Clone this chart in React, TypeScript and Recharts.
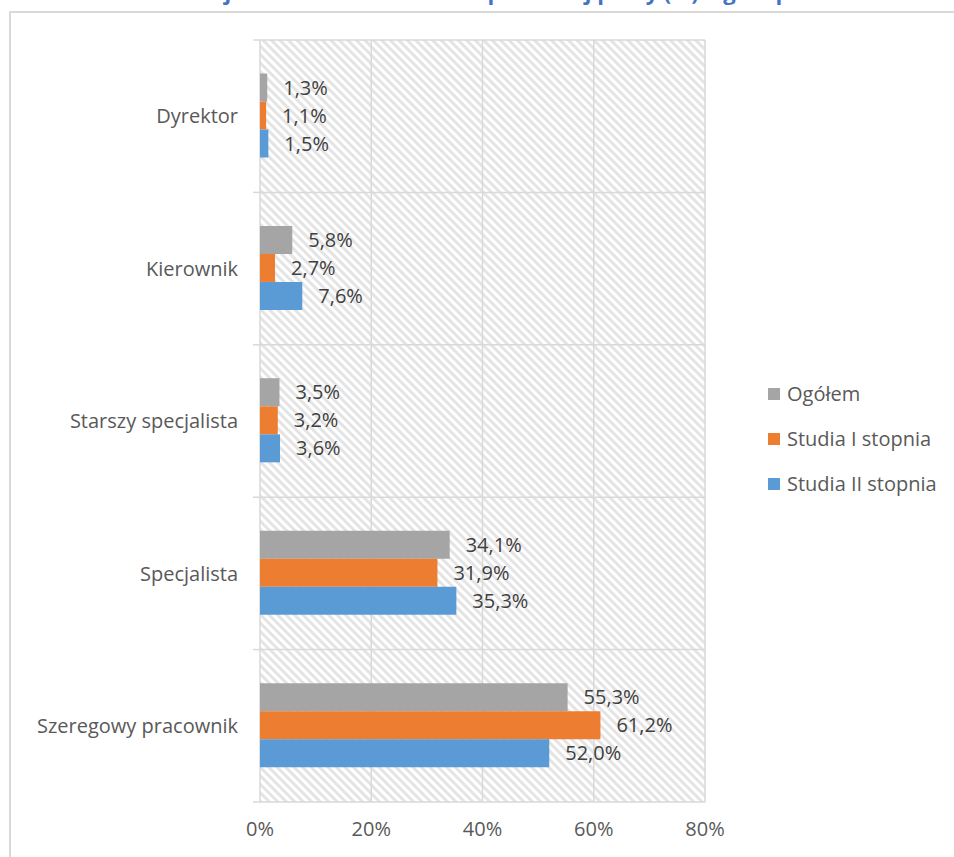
import { BarChart, Bar, XAxis, YAxis, CartesianGrid, Legend, LabelList } from "recharts";

const categories = ["Dyrektor", "Kierownik", "Starszy specjalista", "Specjalista", "Szeregowy pracownik"];
const ogolem = [1.3, 5.8, 3.5, 34.1, 55.3];
const studiaI = [1.1, 2.7, 3.2, 31.9, 61.2];
const studiaII = [1.5, 7.6, 3.6, 35.3, 52.0];
const xTicks = [0, 20, 40, 60, 80];

const series = [
	{ key: "ogolem", name: "Ogółem", color: "#A5A5A5" },
	{ key: "studiaI", name: "Studia I stopnia", color: "#ED7D31" },
	{ key: "studiaII", name: "Studia II stopnia", color: "#5B9BD5" },
];

const data = categories.map((c, i) => ({
	name: c,
	ogolem: ogolem[i],
	studiaI: studiaI[i],
	studiaII: studiaII[i],
}));

const FONT = "'Open Sans', Lato, sans-serif";
const FS = 20;
const GRID = "#d9d9d9";
const TICK_GAP = 22;
const fmt = (v: unknown) => `${(v as number).toFixed(1).replace(".", ",")}%`;

// category label plus the short tick marks at the band edges
function CategoryTick(props: any) {
	const { x, y, payload, index } = props;
	const half = payload.offset || 0;
	const edge = x + TICK_GAP;
	return (
		<g>
			<line x1={edge - 7} x2={edge} y1={y - half} y2={y - half} stroke={GRID} strokeWidth={1.5} />
			{index === categories.length - 1 && (
				<line x1={edge - 7} x2={edge} y1={y + half} y2={y + half} stroke={GRID} strokeWidth={1.5} />
			)}
			<text x={x} y={y} dy="0.355em" textAnchor="end" fill="#595959" fontSize={FS} fontFamily={FONT}>
				{payload.value}
			</text>
		</g>
	);
}

function LegendBox() {
	return (
		<div style={{ fontFamily: FONT }}>
			{series.map((s) => (
				<div key={s.key} style={{ display: "flex", alignItems: "center", height: 45 }}>
					<span style={{ width: 12, height: 12, background: s.color, display: "inline-block", marginRight: 7 }} />
					<span style={{ fontSize: FS, color: "#595959" }}>{s.name}</span>
				</div>
			))}
		</div>
	);
}

export default function App() {
	return (
		<div
			style={{
				position: "absolute",
				left: 0,
				top: 0,
				width: 954,
				height: 857,
				overflow: "hidden",
				background: "#fff",
				fontFamily: FONT,
			}}
		>
			<div
				style={{
					position: "absolute",
					left: 9,
					top: 11,
					width: 1000,
					height: 900,
					border: `2px solid ${GRID}`,
				}}
			/>
			<svg width={954} height={12} style={{ position: "absolute", left: 0, top: 0 }}>
				<text x={558} y={0} textAnchor="middle" fontSize={22} fontWeight="bold" fill="#4472C4" fontFamily={FONT}>
					Zajmowane stanowisko w pierwszej pracy (%) wg stopnia studiów
				</text>
			</svg>
			<BarChart
				width={954}
				height={857}
				data={data}
				layout="vertical"
				margin={{ top: 40, right: 249, bottom: 15, left: 20 }}
				barGap={0}
				barCategoryGap="22%"
				style={{ position: "absolute", left: 0, top: 0 }}
			>
				<defs>
					<pattern id="hatch" patternUnits="userSpaceOnUse" width={6} height={6} patternTransform="rotate(-45)">
						<rect x={0} y={0} width={3} height={6} fill="#e4e4e4" />
					</pattern>
				</defs>
				<YAxis
					type="category"
					dataKey="name"
					width={240}
					tickSize={0}
					tickMargin={TICK_GAP}
					tickLine={false}
					axisLine={false}
					tick={<CategoryTick />}
				/>
				<XAxis
					type="number"
					domain={[0, 80]}
					ticks={xTicks}
					height={40}
					tickSize={0}
					tickMargin={20}
					tickLine={false}
					axisLine={false}
					tickFormatter={(v) => `${v}%`}
					tick={{ fill: "#595959", fontSize: FS, fontFamily: FONT }}
				/>
				<CartesianGrid
					fill="url(#hatch)"
					fillOpacity={1}
					stroke={GRID}
					strokeWidth={1.5}
					horizontalCoordinatesGenerator={({ offset }: any) =>
						[0, ...categories.map((_, i) => i + 1)].map(
							(i) => offset.top + (i * offset.height) / categories.length
						)
					}
				/>
				{series.map((s) => (
					<Bar key={s.key} dataKey={s.key} name={s.name} fill={s.color} isAnimationActive={false}>
						<LabelList
							dataKey={s.key}
							position="right"
							offset={16}
							formatter={fmt}
							fill="#404040"
							fontSize={FS}
							fontFamily={FONT}
						/>
					</Bar>
				))}
				<Legend
					layout="horizontal"
					verticalAlign="middle"
					align="center"
					content={() => <LegendBox />}
					wrapperStyle={{ left: 768, top: 371, width: 186, height: 135 }}
				/>
			</BarChart>
		</div>
	);
}
